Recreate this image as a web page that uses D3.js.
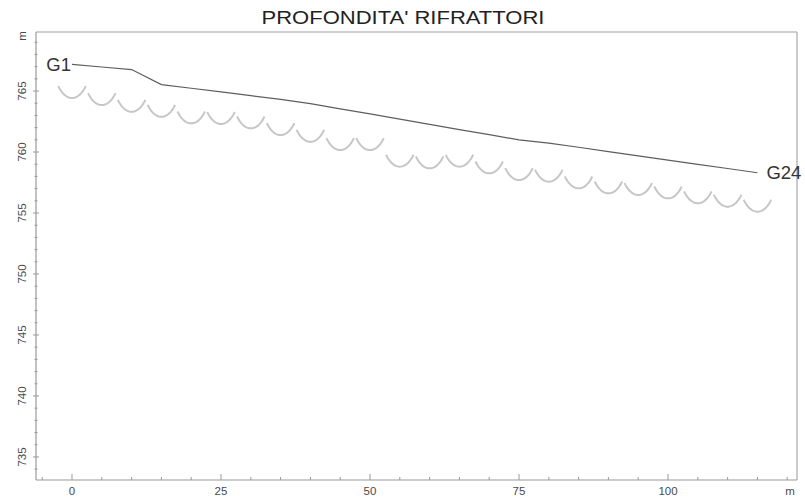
<!DOCTYPE html>
<html>
<head>
<meta charset="utf-8">
<script src="https://cdn.jsdelivr.net/npm/d3@7"></script>
<style>
  html, body { margin: 0; padding: 0; background: #ffffff; }
  svg { display: block; }
  text { font-family: "Liberation Sans", Arial, sans-serif; }
</style>
</head>
<body>
<div id="chart"></div>
<script>
// Geophone positions along the profile (m)
const geophoneX = [0, 5, 10, 15, 20, 25, 30, 35, 40, 45, 50, 55, 60, 65, 70, 75, 80, 85, 90, 95, 100, 105, 110, 115];
// Ground elevation at each geophone (m a.s.l.)
const groundElev = [767.19, 766.97, 766.76, 765.53, 765.23, 764.93, 764.62, 764.32, 763.97, 763.54, 763.12, 762.70,
                    762.27, 761.84, 761.42, 761.00, 760.73, 760.39, 760.03, 759.69, 759.34, 758.99, 758.65, 758.30];
// Refractor elevation beneath each geophone (m a.s.l.)
const refractorElev = [764.43, 763.85, 763.30, 762.89, 762.35, 762.30, 761.94, 761.39, 760.84, 760.16, 760.16, 758.80,
                       758.66, 758.80, 758.25, 757.70, 757.57, 757.02, 756.61, 756.48, 756.20, 755.80, 755.52, 755.11];
// Axis ticks
const xTickLabels = [0, 25, 50, 75, 100];
const yTickLabels = [735, 740, 745, 750, 755, 760, 765];
const firstLabel = "G1";
const lastLabel = "G24";
const title = "PROFONDITA' RIFRATTORI";

const W = 805, H = 500;
const plotLeft = 36, plotRight = 797, plotTop = 32, plotBottom = 480;

const svg = d3.select("#chart").append("svg").attr("width", W).attr("height", H);

const x = d3.scaleLinear().domain([-6.04, 121.64]).range([plotLeft, plotRight]);
const y = d3.scaleLinear().domain([733.11, 769.84]).range([plotBottom, plotTop]);

const axisColor = "#9a9a9a";
const labelColor = "#4a4a4a";

// Title
svg.append("text")
  .attr("x", 403).attr("y", 24)
  .attr("text-anchor", "middle")
  .attr("font-size", 17.5)
  .attr("textLength", 283)
  .attr("lengthAdjust", "spacingAndGlyphs")
  .attr("fill", "#222")
  .text(title);

// Frame: top and right edges
svg.append("line").attr("x1", plotLeft).attr("x2", plotRight).attr("y1", plotTop).attr("y2", plotTop)
  .attr("stroke", "#cfcfcf").attr("stroke-width", 2);
svg.append("line").attr("x1", plotRight).attr("x2", plotRight).attr("y1", plotTop).attr("y2", plotBottom)
  .attr("stroke", "#a8a8a8").attr("stroke-width", 1.2);

// X axis: major ticks every 25 m, minor every 5 m, pointing inward
const xAxisG = svg.append("g");
xAxisG.append("line").attr("x1", plotLeft).attr("x2", plotRight).attr("y1", plotBottom).attr("y2", plotBottom)
  .attr("stroke", axisColor).attr("stroke-width", 1.2);
const xMinor = d3.range(-5, 121, 5);
xAxisG.selectAll("line.minor").data(xMinor).join("line")
  .attr("class", "minor")
  .attr("x1", d => x(d)).attr("x2", d => x(d))
  .attr("y1", plotBottom).attr("y2", d => xTickLabels.includes(d) ? plotBottom - 6 : plotBottom - 3)
  .attr("stroke", axisColor).attr("stroke-width", 1);
xAxisG.selectAll("text.tick").data(xTickLabels).join("text")
  .attr("class", "tick")
  .attr("x", d => x(d)).attr("y", 495)
  .attr("text-anchor", "middle")
  .attr("font-size", 11.5)
  .attr("fill", labelColor)
  .text(d => d);
xAxisG.append("text")
  .attr("x", 790).attr("y", 495)
  .attr("text-anchor", "middle")
  .attr("font-size", 11.5)
  .attr("fill", labelColor)
  .text("m");

// Y axis: labels every 5 m, minor ticks every 1 m, labels rotated
const yAxisG = svg.append("g");
yAxisG.append("line").attr("x1", plotLeft).attr("x2", plotLeft).attr("y1", plotTop).attr("y2", plotBottom)
  .attr("stroke", axisColor).attr("stroke-width", 1.2);
const yMinor = d3.range(734, 770, 1);
yAxisG.selectAll("line.minor").data(yMinor).join("line")
  .attr("class", "minor")
  .attr("x1", d => yTickLabels.includes(d) ? plotLeft - 3 : plotLeft - 1.5)
  .attr("x2", d => yTickLabels.includes(d) ? plotLeft + 3 : plotLeft + 1.5)
  .attr("y1", d => y(d)).attr("y2", d => y(d))
  .attr("stroke", axisColor).attr("stroke-width", 1);
yAxisG.selectAll("text.tick").data(yTickLabels).join("text")
  .attr("class", "tick")
  .attr("transform", d => `translate(26,${y(d)}) rotate(-90)`)
  .attr("text-anchor", "middle")
  .attr("font-size", 11.5)
  .attr("fill", labelColor)
  .text(d => d);
yAxisG.append("text")
  .attr("transform", `translate(26,36) rotate(-90)`)
  .attr("text-anchor", "middle")
  .attr("font-size", 11.5)
  .attr("fill", labelColor)
  .text("m");

// Refractor arcs: a fixed-shape circular arc centred under each geophone,
// its lowest point sitting at the refractor elevation
const arcRadius = 3.2;               // m, in data units
const arcHalfAngle = 46 * Math.PI / 180;
const arcLine = d3.line().x(p => x(p[0])).y(p => y(p[1]));
const arcs = geophoneX.map((gx, i) => {
  const cz = refractorElev[i] + arcRadius;
  return d3.range(-arcHalfAngle, arcHalfAngle + 1e-9, arcHalfAngle / 20)
    .map(t => [gx + arcRadius * Math.sin(t), cz - arcRadius * Math.cos(t)]);
});
svg.append("g").selectAll("path").data(arcs).join("path")
  .attr("d", arcLine)
  .attr("fill", "none")
  .attr("stroke", "#c6c6c6")
  .attr("stroke-width", 2);

// Ground profile through the geophones
const groundLine = d3.line().x((d, i) => x(geophoneX[i])).y(d => y(d));
svg.append("path")
  .datum(groundElev)
  .attr("d", groundLine)
  .attr("fill", "none")
  .attr("stroke", "#5e5e5e")
  .attr("stroke-width", 1.2);

// End labels
svg.append("text")
  .attr("x", x(geophoneX[0]) - 1).attr("y", y(groundElev[0]) + 6.5)
  .attr("text-anchor", "end")
  .attr("font-size", 18.5)
  .attr("fill", "#333")
  .text(firstLabel);
svg.append("text")
  .attr("x", x(geophoneX[geophoneX.length - 1]) + 9).attr("y", y(groundElev[groundElev.length - 1]) + 6.5)
  .attr("text-anchor", "start")
  .attr("font-size", 18.5)
  .attr("fill", "#333")
  .text(lastLabel);
</script>
</body>
</html>
